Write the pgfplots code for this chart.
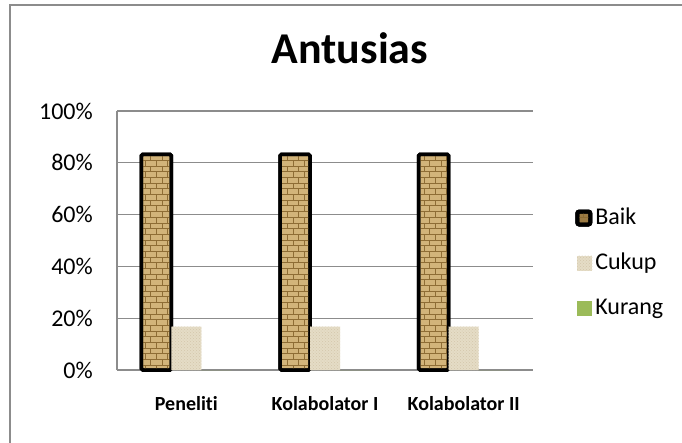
\documentclass[border=0pt]{standalone}
\usepackage{pgfplots}
\pgfplotsset{compat=1.18}
\usepackage{fontspec}
\setmainfont[Ligatures={NoCommon}]{Carlito}
\usetikzlibrary{patterns}
\definecolor{baik}{HTML}{D2B47A}
\definecolor{baikdark}{HTML}{8E6D35}
\definecolor{cukup}{HTML}{E5DCC6}
\definecolor{cukupdark}{HTML}{D3C7AB}
\definecolor{kurang}{HTML}{9BBB59}
\definecolor{framegray}{HTML}{8C8C8C}
\definecolor{gridgray}{HTML}{8C8C8C}
\begin{document}
\begin{tikzpicture}[x=1pt,y=1pt]
\useasboundingbox (0,0) rectangle (682,442);
\fill[white] (0,0) rectangle (682,442);
\draw[color=framegray, line width=1.6pt] (10,-2) -- (10,437) -- (684,437);
\begin{axis}[
  at={(117pt,72pt)}, anchor=south west,
  scale only axis, width=416pt, height=259pt,
  ybar=0pt, bar width=30pt,
  xmin=-0.5, xmax=2.5, ymin=0, ymax=100,
  xtick={0,1,2},
  xticklabels={Peneliti,Kolabolator I,Kolabolator II},
  ytick={0,20,40,60,80,100},
  yticklabels={0\%,20\%,40\%,60\%,80\%,100\%},
  major tick length=0pt,
  axis x line*=bottom, axis y line*=left,
  axis line style={color=gridgray, line width=1.5pt},
  ymajorgrids, grid style={color=gridgray, line width=1.3pt},
  xticklabel style={font=\bfseries\fontsize{20}{24}\selectfont, inner sep=0pt, anchor=north, yshift=-26pt},
  yticklabel style={font=\fontsize{24}{28}\selectfont, inner sep=0pt, anchor=east, xshift=-24pt},
  title={Antusias},
  title style={font=\bfseries\fontsize{44}{50}\selectfont, at={(0.56,1)}, anchor=base, yshift=41pt},
  legend style={draw=none, fill=none, at={(1.094,0.413)}, anchor=west,
    font=\fontsize{24}{28}\selectfont,
    nodes={inner sep=0pt, text height=17pt, text depth=5pt},
    row sep=23pt, column sep=3pt},
  legend cell align=left,
  clip=false,
]
\addplot[fill=baik, draw=black, line width=3.5pt, rounded corners=1.5pt,
  postaction={pattern=bricks, pattern color=baikdark},
  legend image code/.code={\draw[fill=baikdark!80!baik, draw=black, line width=4pt, rounded corners=2pt] (2pt,-6.5pt) rectangle (15pt,6.5pt);}]
  coordinates {(0,83.3) (1,83.3) (2,83.3)};
\addplot[fill=cukup, draw=none,
  postaction={pattern=crosshatch dots, pattern color=cukupdark},
  legend image code/.code={\fill[cukup] (2pt,-7.5pt) rectangle (17pt,7.5pt);}]
  coordinates {(0,16.7) (1,16.7) (2,16.7)};
\addplot[fill=kurang, draw=none,
  legend image code/.code={\fill[kurang] (2pt,-7.5pt) rectangle (17pt,7.5pt);}]
  coordinates {(0,0) (1,0) (2,0)};
\legend{Baik,Cukup,Kurang}
\end{axis}
\end{tikzpicture}
\end{document}
